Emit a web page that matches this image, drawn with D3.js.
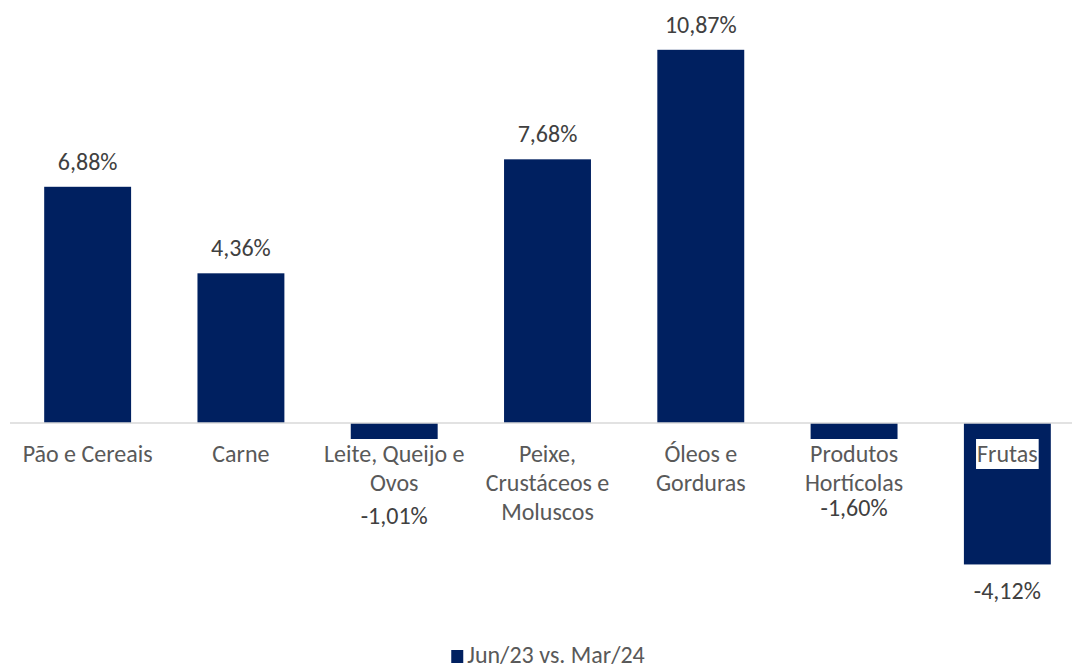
<!DOCTYPE html>
<html>
<head>
<meta charset="utf-8">
<script src="https://cdn.jsdelivr.net/npm/d3@7"></script>
<style>
  body { margin: 0; background: #fff; }
  svg text { font-family: Carlito, Calibri, "Open Sans", sans-serif; fill: #595959; }
</style>
</head>
<body>
<svg id="chart" width="1072" height="668"></svg>
<script>
const categories = ["Pão e Cereais", "Carne", "Leite, Queijo e Ovos", "Peixe, Crustáceos e Moluscos",
	"Óleos e Gorduras", "Produtos Hortícolas", "Frutas"];
const values = [6.88, 4.36, -1.01, 7.68, 10.87, -1.60, -4.12];
const seriesName = "Jun/23 vs. Mar/24";

const width = 1072, height = 668;
const barColor = "#002060";
const fontSize = 24;

const svg = d3.select("#chart");

const x = d3.scaleBand()
	.domain(categories)
	.range([11, 1084])
	.paddingInner(0.433)
	.paddingOuter(0.2165);

const y = d3.scaleLinear()
	.domain([-6, 12])
	.range([629, 11]);

const fmt = (v) => d3.format(".2f")(v).replace("−", "-").replace(".", ",") + "%";

// bars
svg.append("g")
	.selectAll("rect")
	.data(values)
	.join("rect")
	.attr("x", (d, i) => x(categories[i]))
	.attr("width", x.bandwidth())
	.attr("y", (d) => y(Math.max(0, d)))
	.attr("height", (d) => Math.abs(y(d) - y(0)))
	.attr("fill", barColor);

// zero axis line
svg.append("line")
	.attr("x1", 10).attr("x2", width)
	.attr("y1", y(0)).attr("y2", y(0))
	.attr("stroke", "#d9d9d9")
	.attr("stroke-width", 1.5);

// category labels (wrapped, white box behind like excel)
const lineHeight = 29;
const firstBaseline = y(0) + 39;
const catG = svg.append("g");
const catLastLine = [];

function wrapWords(text, maxW, measure) {
	const words = text.split(" ");
	const lines = [];
	let cur = "";
	for (const w of words) {
		const test = cur ? cur + " " + w : w;
		if (cur && measure(test) > maxW) {
			lines.push(cur);
			cur = w;
		} else {
			cur = test;
		}
	}
	lines.push(cur);
	return lines;
}

const probe = svg.append("text").attr("font-size", fontSize);
const measure = (s) => { probe.text(s); return probe.node().getComputedTextLength(); };

categories.forEach((c, i) => {
	const cx = x(c) + x.bandwidth() / 2;
	const lines = wrapWords(c, 146, measure);
	const maxW = d3.max(lines, measure);
	const g = catG.append("g");
	g.append("rect")
		.attr("x", cx - maxW / 2 - 1)
		.attr("width", maxW + 2)
		.attr("y", firstBaseline - 23)
		.attr("height", lines.length * lineHeight + 1)
		.attr("fill", "#fff");
	g.selectAll("text")
		.data(lines)
		.join("text")
		.attr("x", cx)
		.attr("y", (d, j) => firstBaseline + j * lineHeight)
		.attr("text-anchor", "middle")
		.attr("font-size", fontSize)
		.text((d) => d);
	catLastLine.push(firstBaseline + (lines.length - 1) * lineHeight);
});
probe.remove();

// value labels
svg.append("g")
	.selectAll("text")
	.data(values)
	.join("text")
	.attr("x", (d, i) => x(categories[i]) + x.bandwidth() / 2)
	.attr("y", (d, i) => {
		if (d >= 0) return y(d) - 17;
		let ly = y(d) + 35;
		const gap = ly - catLastLine[i];
		// push below the category text when they collide
		if (gap < 12) ly = catLastLine[i] + 33;
		else if (gap < 25) ly = catLastLine[i] + 25;
		return ly;
	})
	.attr("text-anchor", "middle")
	.attr("font-size", fontSize)
	.style("fill", "#404040")
	.text((d) => fmt(d));

// legend
const legend = svg.append("g");
const legText = legend.append("text")
	.attr("y", 663)
	.attr("font-size", fontSize)
	.text(seriesName);
const lw = legText.node().getComputedTextLength();
const lx = width / 2 - (lw + 16) / 2 + 12;
legend.append("rect")
	.attr("x", lx).attr("y", 650)
	.attr("width", 12).attr("height", 13)
	.attr("fill", barColor);
legText.attr("x", lx + 16);
</script>
</body>
</html>
